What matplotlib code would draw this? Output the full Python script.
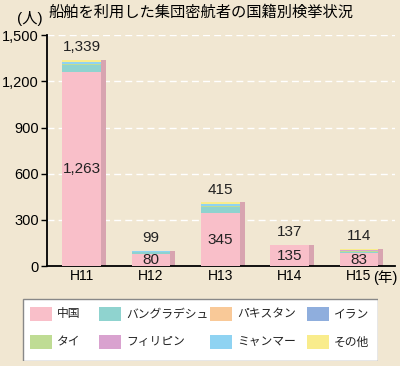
import numpy as np
import matplotlib
matplotlib.use("Agg")
import matplotlib.pyplot as plt
from matplotlib import patches

plt.rcParams['font.family'] = ['Liberation Sans', 'Noto Sans CJK JP']

# データ
years = ["H11", "H12", "H13", "H14", "H15"]
totals = [1339, 99, 415, 137, 114]
china = [1263, 80, 345, 135, 83]
bangladesh = [40, 10, 40, 0, 8]
pakistan = [5, 0, 0, 0, 0]
iran = [0, 0, 0, 0, 0]
thai = [5, 0, 5, 0, 5]
philippines = [0, 0, 0, 0, 8]
myanmar = [10, 6, 15, 0, 0]
other = [16, 3, 10, 2, 10]

names = ["中国", "バングラデシュ", "パキスタン", "イラン",
         "タイ", "フィリピン", "ミャンマー", "その他"]
colors = ["#F9BFC9", "#8FD3CF", "#F9C998", "#8FAEDD",
          "#BFDC94", "#D9A2CF", "#8FD3F2", "#F9EC8C"]
values = [china, bangladesh, pakistan, iran, thai, philippines, myanmar, other]

bg = "#F1E7D2"
fig = plt.figure(figsize=(4.0, 3.66), dpi=100, facecolor=bg)
ax = fig.add_axes([0.1175, 0.273, 0.87, 0.631])
ax.set_facecolor(bg)

x = np.arange(len(years))
w = 0.56
side = 0.07

# 側面(立体っぽく)
ax.bar(x + w / 2 + side / 2, totals, width=side, color="#D8A4B0", zorder=2)

bottom = np.zeros(len(years))
for name, vals, col in zip(names, values, colors):
    vals = np.array(vals)
    ax.bar(x, vals, width=w, bottom=bottom, color=col, zorder=3)
    bottom += vals

# 数値
for i in range(len(years)):
    ax.annotate("{:,}".format(totals[i]), (x[i], totals[i]), xytext=(0, 9),
                textcoords="offset points", ha="center", va="center",
                fontsize=11, color="#222222")
    ax.text(x[i], china[i] / 2, "{:,}".format(china[i]), ha="center",
            va="center", fontsize=11, color="#222222", zorder=4)

ax.set_xlim(-0.5, 4.52)
ax.set_ylim(0, 1500)
ax.set_yticks(np.arange(0, 1501, 300))
ax.set_yticklabels(["{:,}".format(v) for v in range(0, 1501, 300)], fontsize=10.5)
ax.set_xticks(x)
ax.set_xticklabels(years, fontsize=10)
ax.tick_params(axis="x", length=0, pad=2)
ax.tick_params(axis="y", length=4, width=1, direction="out", pad=2)
for yv in range(300, 1501, 300):
    ax.axhline(yv, color="white", ls=(0, (5, 3)), lw=1, zorder=1)
for s in ["top", "right"]:
    ax.spines[s].set_visible(False)
ax.spines["left"].set_linewidth(1.3)
ax.spines["bottom"].set_linewidth(1.3)

fig.text(0.0425, 0.95, "(人)", fontsize=11, ha="left", va="center")
fig.text(0.12, 0.967, "船舶を利用した集団密航者の国籍別検挙状況", fontsize=11,
         ha="left", va="center", family="Noto Sans CJK JP")
fig.text(0.932, 0.241, "(年)", fontsize=10.5, ha="left", va="center")

# 凡例 (手で配置)
lax = fig.add_axes([22 / 400, 5 / 366, 356 / 400, 63 / 366])
lax.set_xlim(0, 356)
lax.set_ylim(63, 0)
lax.axis("off")
lax.add_patch(patches.Rectangle((0.5, 0.5), 355, 62, facecolor="white",
                                edgecolor="#888888", lw=1))
col_x = [8, 77, 188, 285]
row_y = [16, 44]
for k in range(8):
    cx = col_x[k % 4]
    cy = row_y[k // 4]
    lax.add_patch(patches.Rectangle((cx, cy - 7), 22, 14, facecolor=colors[k],
                                    edgecolor="none"))
    lax.text(cx + 27, cy, names[k], fontsize=8.5, va="center", ha="left",
             family="Noto Sans CJK JP", color="#222222")

fig.savefig("out.png", dpi=100, facecolor=bg)
